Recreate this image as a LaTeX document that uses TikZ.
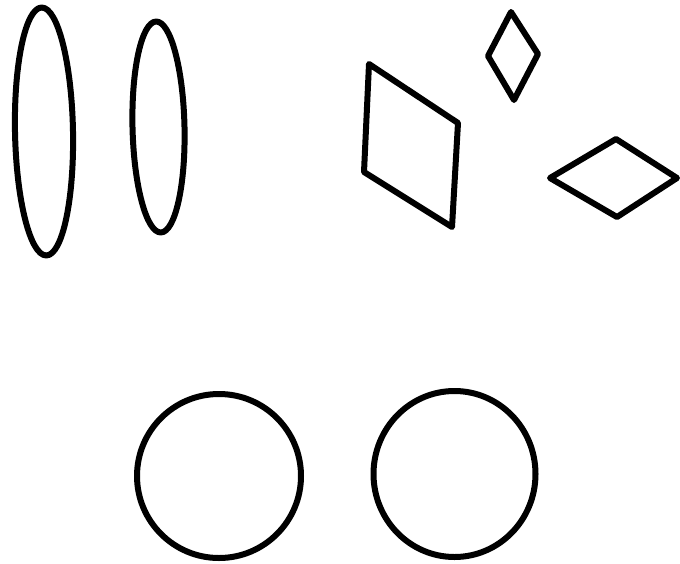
\documentclass[tikz,border=0pt]{standalone}
\usetikzlibrary{calc}
\tikzset{
    outline/.style={draw=black, line width=6pt, line join=round, line cap=round}
}
\begin{document}
\begin{tikzpicture}[x=1pt, y=-1pt]
    \useasboundingbox (0,0) rectangle (680,563);
    % tall ellipses
    \coordinate (ellA) at (44,131.5);
    \coordinate (ellB) at (158.5,127);
    \draw[outline, rotate around={1.1:(ellA)}] (ellA) ellipse [x radius=29, y radius=124];
    \draw[outline, rotate around={1.3:(ellB)}] (ellB) ellipse [x radius=26, y radius=105.5];
    % quadrilaterals
    \coordinate (parA) at (369,64);
    \coordinate (parB) at (458,123);
    \coordinate (parC) at (452,227);
    \coordinate (parD) at (364,172);
    \draw[outline] (parA) -- (parB) -- (parC) -- (parD) -- cycle;
    \coordinate (smT) at (511,12);
    \coordinate (smR) at (538,54);
    \coordinate (smB) at (514,100);
    \coordinate (smL) at (488,56);
    \draw[outline] (smT) -- (smR) -- (smB) -- (smL) -- cycle;
    \coordinate (rhL) at (550,178);
    \coordinate (rhT) at (616,139);
    \coordinate (rhR) at (677,178);
    \coordinate (rhB) at (617,217);
    \draw[outline] (rhL) -- (rhT) -- (rhR) -- (rhB) -- cycle;
    % circles
    \coordinate (cirA) at (219,476);
    \coordinate (cirB) at (454.5,474);
    \draw[outline] (cirA) circle [radius=82];
    \draw[outline] (cirB) ellipse [x radius=81, y radius=83];
\end{tikzpicture}
\end{document}
